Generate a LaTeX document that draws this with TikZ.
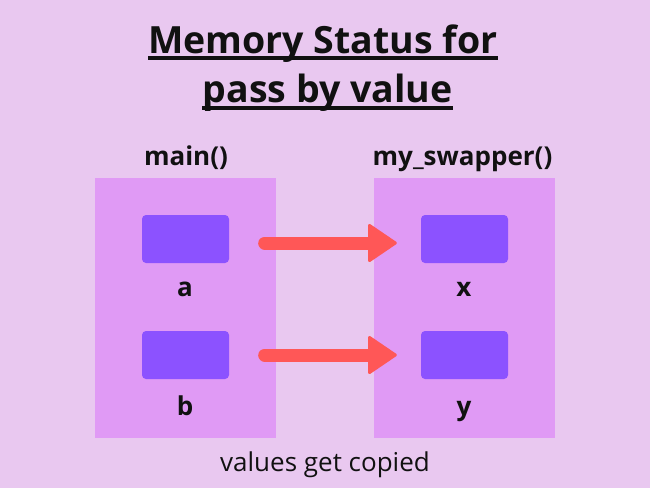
\documentclass[tikz,border=0pt]{standalone}
\usepackage{fontspec}
\setmainfont{Open Sans}
\usetikzlibrary{arrows.meta}
\definecolor{bg}{HTML}{E9C8F0}
\definecolor{panel}{HTML}{E09AF5}
\definecolor{cell}{HTML}{8C52FF}
\definecolor{arr}{HTML}{FF5757}
\definecolor{ink}{HTML}{111111}
\tikzset{
  panelbox/.style={fill=panel, draw=none, minimum width=181pt, minimum height=260pt, inner sep=0pt},
  cellbox/.style={fill=cell, draw=none, rounded corners=4pt, minimum width=87pt, minimum height=48pt, inner sep=0pt},
  varlabel/.style={font=\fontsize{26}{30}\selectfont\bfseries, text=ink, inner sep=0pt, anchor=base},
  headlabel/.style={font=\fontsize{26}{30}\selectfont\bfseries, text=ink, inner sep=0pt, anchor=base},
  titletext/.style={font=\fontsize{37.5}{42}\selectfont\bfseries, text=ink, inner sep=0pt, anchor=base},
  conn/.style={draw=arr, line width=13pt, line cap=round,
    -{Triangle[width=40pt,length=30pt,round,line width=3pt]},
    shorten <=35.5pt, shorten >=24pt},
  uline/.style={draw=ink, line width=3.5pt}
}
\begin{document}
\begin{tikzpicture}[x=1pt,y=-1pt]
\useasboundingbox (0,0) rectangle (650,488);
\fill[bg] (0,0) rectangle (650,488);
% title
\node[titletext] (t1) at (323,53) {Memory Status for\ };
\node[titletext] (t2) at (327.5,102) {pass by value};
\draw[uline] ([yshift=-5pt]t1.base west) -- ([yshift=-5pt]t1.base east);
\draw[uline] ([yshift=-6pt]t2.base west) -- ([yshift=-6pt]t2.base east);
% headings
\node[headlabel] (hm) at (186,165) {main()};
\node[headlabel] (hs) at (462.5,165) {my\_swapper()};
% panels
\node[panelbox] (pm) at (185.5,308) {};
\node[panelbox] (ps) at (464.5,308) {};
% cells
\node[cellbox] (ca) at (185.5,239) {};
\node[cellbox] (cb) at (185.5,355) {};
\node[cellbox] (cx) at (464.5,239) {};
\node[cellbox] (cy) at (464.5,355) {};
% labels
\node[varlabel] (la) at (185,296) {a};
\node[varlabel] (lb) at (185,415) {b};
\node[varlabel] (lx) at (464,296) {x};
\node[varlabel] (ly) at (464,415) {y};
% connectors
\draw[conn] ([yshift=-4pt]ca.east) -- ([yshift=-4pt]cx.west);
\draw[conn] (cb.east) -- (cy.west);
% caption
\node[font=\fontsize{26}{30}\selectfont, text=ink, inner sep=0pt, anchor=base] (cap) at (325,471) {values get copied};
\end{tikzpicture}
\end{document}
